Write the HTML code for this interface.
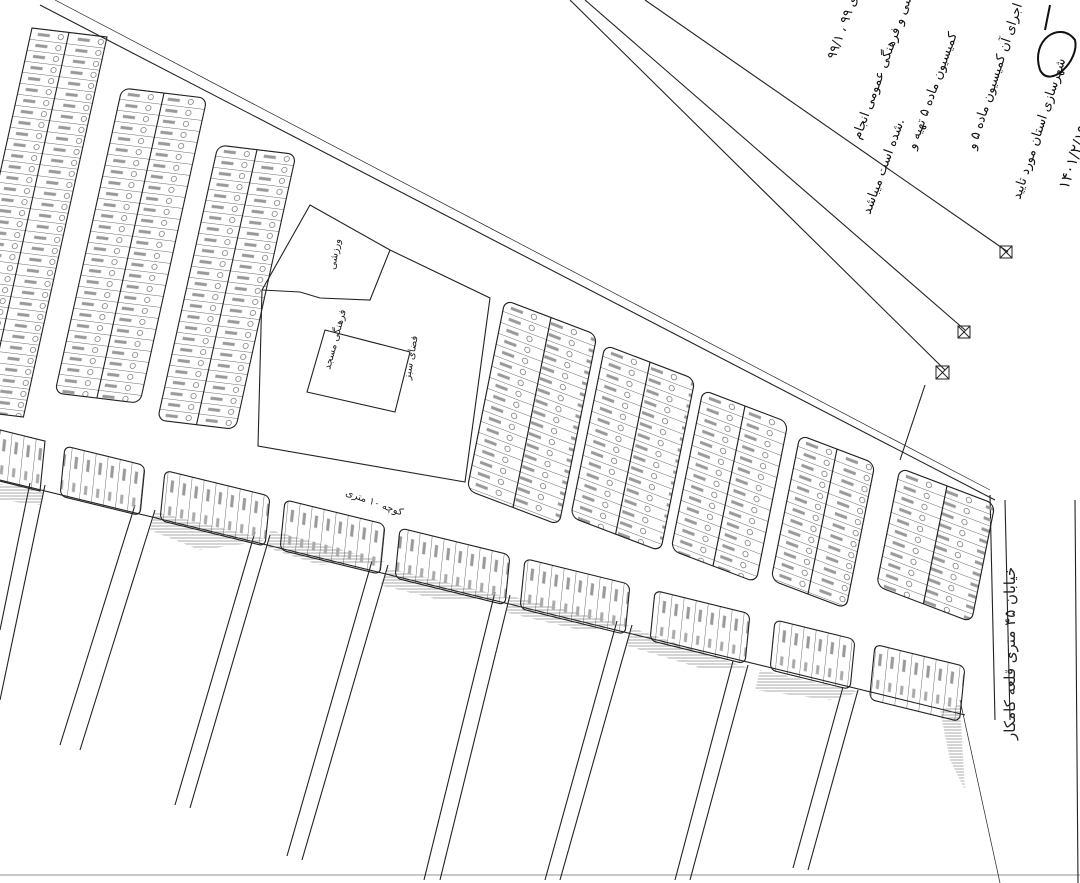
<!DOCTYPE html>
<html><head><meta charset="utf-8"><style>
html,body{margin:0;padding:0;background:#fff;}
svg{display:block}
text{font-family:"DejaVu Sans","Liberation Sans",sans-serif}
</style></head><body>
<svg width="1080" height="883" viewBox="0 0 1080 883" xmlns="http://www.w3.org/2000/svg">
<defs>
<pattern id="rows" width="40" height="11" patternUnits="userSpaceOnUse">
<line x1="0" y1="0" x2="40" y2="0" stroke="#333" stroke-width="0.7"/>
<rect x="7" y="4" width="12" height="3" fill="#999"/>
<circle cx="30" cy="5.5" r="2.6" fill="none" stroke="#555" stroke-width="0.6"/>
</pattern>
<pattern id="cols" width="12" height="60" patternUnits="userSpaceOnUse">
<line x1="0" y1="0" x2="0" y2="60" stroke="#333" stroke-width="0.7"/>
<rect x="4" y="8" width="3" height="12" fill="#999"/>
<rect x="4" y="34" width="3" height="9" fill="#aaa"/>
</pattern>
<pattern id="hatch" width="6" height="3" patternUnits="userSpaceOnUse">
<line x1="0" y1="1" x2="6" y2="1" stroke="#555" stroke-width="0.5"/>
</pattern>
</defs>
<g fill="none" stroke="#222" stroke-width="1.1">
<line x1="40" y1="5" x2="995" y2="500"/>
<line x1="55" y1="0" x2="990" y2="490" stroke-width="0.7"/>
<line x1="585" y1="0" x2="965" y2="330"/>
<line x1="645" y1="0" x2="1008" y2="252"/>
<line x1="570" y1="0" x2="945" y2="370"/>
<line x1="925" y1="385" x2="900" y2="460"/>
<line x1="990" y1="495" x2="995" y2="720"/>
<line x1="1005" y1="500" x2="1010" y2="720"/>
<line x1="1075" y1="500" x2="1078" y2="883"/>
<line x1="960" y1="700" x2="1000" y2="883" stroke-width="0.7"/>
<polygon points="310,205 390,250 490,298 465,482 258,446 262,290"/>
<polyline points="262,290 300,292 320,298 370,300 390,250"/>
<polygon points="325,330 410,352 395,412 307,392"/>
<line x1="0" y1="480" x2="965" y2="715"/>
<line x1="45" y1="485" x2="0" y2="700"/><line x1="30" y1="483" x2="0" y2="630"/>
<line x1="155" y1="510" x2="80" y2="750"/><line x1="135" y1="505" x2="60" y2="745"/>
<line x1="270" y1="535" x2="190" y2="808"/><line x1="255" y1="532" x2="175" y2="805"/>
<line x1="388" y1="565" x2="302" y2="860"/><line x1="372" y1="561" x2="287" y2="856"/>
<line x1="510" y1="595" x2="440" y2="880"/><line x1="495" y1="592" x2="424" y2="880"/>
<line x1="632" y1="625" x2="560" y2="880"/><line x1="617" y1="621" x2="545" y2="880"/>
<line x1="748" y1="665" x2="690" y2="880"/><line x1="733" y1="661" x2="675" y2="880"/>
<line x1="858" y1="690" x2="808" y2="870"/><line x1="843" y1="687" x2="793" y2="868"/>
<line x1="0" y1="875" x2="1080" y2="875" stroke-width="0.5"/>
</g>
<g fill="url(#hatch)">
<polygon points="0,484 45,490 40,505 0,500"/>
<polygon points="155,512 270,540 200,550 150,530"/>
<polygon points="388,568 510,598 440,600 380,585"/>
<polygon points="632,628 748,668 700,668 625,645"/>
<polygon points="760,670 860,692 830,700 755,690"/>
<polygon points="940,710 960,705 965,790 950,760"/>
<polygon points="270,530 385,562 320,565 268,548"/>
<polygon points="510,596 632,626 580,630 505,612"/>
</g>
<g stroke="#222" stroke-width="1.1">
<g transform="matrix(1,0.12,-0.22,1,32,28)"><rect width="75" height="380" fill="url(#rows)"/><line x1="37" y1="0" x2="37" y2="380"/></g>
<g transform="matrix(1,0.12,-0.22,1,122,88)"><rect width="85" height="305" rx="8" fill="url(#rows)"/><line x1="42" y1="0" x2="42" y2="305"/></g>
<g transform="matrix(1,0.12,-0.22,1,218,145)"><rect width="78" height="275" rx="8" fill="url(#rows)"/><line x1="39" y1="0" x2="39" y2="275"/></g>
<g transform="matrix(1,0.38,-0.2,1,505,300)"><rect width="92" height="190" rx="8" fill="url(#rows)"/><line x1="46" y1="0" x2="46" y2="190"/></g>
<g transform="matrix(1,0.38,-0.2,1,605,345)"><rect width="90" height="172" rx="8" fill="url(#rows)"/><line x1="45" y1="0" x2="45" y2="172"/></g>
<g transform="matrix(1,0.38,-0.2,1,703,390)"><rect width="85" height="160" rx="8" fill="url(#rows)"/><line x1="42" y1="0" x2="42" y2="160"/></g>
<g transform="matrix(1,0.38,-0.2,1,800,435)"><rect width="75" height="145" rx="8" fill="url(#rows)"/><line x1="37" y1="0" x2="37" y2="145"/></g>
<g transform="matrix(1,0.38,-0.2,1,900,468)"><rect width="95" height="118" rx="8" fill="url(#rows)"/><line x1="47" y1="0" x2="47" y2="118"/></g>
<g transform="matrix(1,0.245,-0.1,1,0,430)">
<rect x="0" y="0" width="45" height="50" fill="url(#cols)"/>
<rect x="65" y="0" width="80" height="50" rx="6" fill="url(#cols)"/>
<rect x="165" y="0" width="105" height="50" rx="6" fill="url(#cols)"/>
<rect x="285" y="0" width="100" height="50" rx="6" fill="url(#cols)"/>
<rect x="400" y="0" width="110" height="50" rx="6" fill="url(#cols)"/>
<rect x="525" y="0" width="105" height="50" rx="6" fill="url(#cols)"/>
<rect x="655" y="0" width="95" height="50" rx="6" fill="url(#cols)"/>
<rect x="775" y="0" width="80" height="50" rx="6" fill="url(#cols)"/>
<rect x="875" y="0" width="90" height="55" rx="6" fill="url(#cols)"/>
</g>
</g>
<g fill="none" stroke="#222">
<rect x="1000" y="246" width="12" height="12"/><line x1="1000" y1="246" x2="1012" y2="258"/><line x1="1012" y1="246" x2="1000" y2="258"/>
<rect x="958" y="326" width="12" height="12"/><line x1="958" y1="326" x2="970" y2="338"/><line x1="970" y1="326" x2="958" y2="338"/>
<rect x="936" y="366" width="13" height="13"/><line x1="936" y1="366" x2="949" y2="379"/><line x1="949" y1="366" x2="936" y2="379"/>
</g>
<g fill="#222" font-size="10">
<text x="330" y="370" transform="rotate(-75 330 370)">فرهنگی مسجد</text>
<text x="410" y="380" transform="rotate(-80 410 380)">فضای سبز</text>
<text x="335" y="270" transform="rotate(-80 335 270)">ورزشی</text>
<text x="345" y="495" transform="rotate(20 345 495)">کوچه ۱۰ متری</text>
<text x="1015" y="740" font-size="15" transform="rotate(-90 1015 740)">خیابان ۴۵ متری قلعه کامکار</text>
</g>
<g fill="#111" font-size="13">
<text x="835" y="60" transform="rotate(-70 835 60)">۹۹/۱ ، ۹۹ دارای</text>
<text x="860" y="140" transform="rotate(-70 860 140)">ورزشی و فرهنگی عمومی انجام</text>
<text x="870" y="215" transform="rotate(-70 870 215)">شده است میباشد.</text>
<text x="915" y="150" transform="rotate(-70 915 150)">کمیسیون ماده ۵ تهیه و</text>
<text x="975" y="150" transform="rotate(-72 975 150)">اجرای آن کمیسیون ماده ۵ و</text>
<text x="1020" y="200" transform="rotate(-72 1020 200)">شهرسازی استان مورد تایید</text>
<text x="1068" y="190" font-size="15" transform="rotate(-72 1068 190)">۱۴۰۱/۲/۱۹</text>
</g>
<path d="M1040,70 C1030,40 1060,20 1075,40 C1080,60 1050,90 1040,70 M1045,30 L1050,5" fill="none" stroke="#111" stroke-width="2"/>
</svg>
</body></html>
